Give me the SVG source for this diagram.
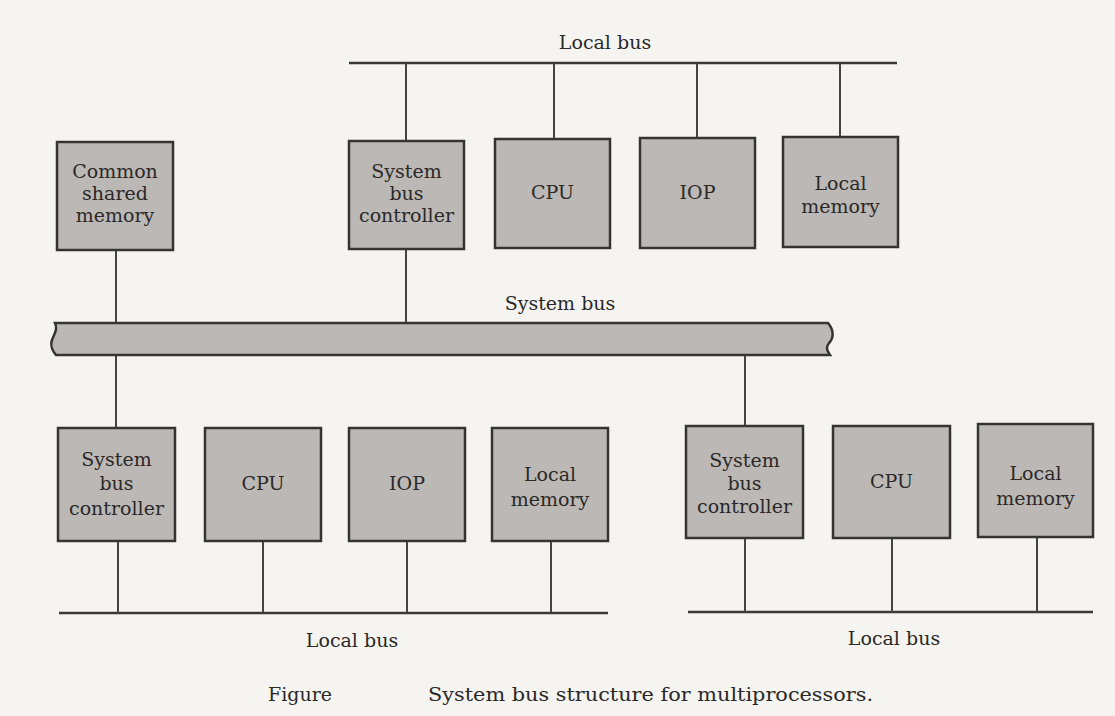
<svg xmlns="http://www.w3.org/2000/svg" width="1115" height="716" viewBox="0 0 1115 716">
<style>
.bg{fill:#f5f4f1}
.box{fill:#bcb8b5;stroke:#353433;stroke-width:2.5}
.ln{stroke:#454443;stroke-width:2;fill:none}
.bus{stroke:#3a3938;stroke-width:2.5;fill:none}
.t{font-family:"DejaVu Serif","Liberation Serif",serif;font-size:19px;fill:#2a2928;text-anchor:middle}
.lbl{font-family:"DejaVu Serif","Liberation Serif",serif;font-size:19px;fill:#2a2928;text-anchor:middle}
.cap{font-family:"DejaVu Serif","Liberation Serif",serif;font-size:19px;fill:#2a2928}
</style>
<rect class="bg" x="0" y="0" width="1115" height="716"/>
<g id="connectors">
  <line class="bus" x1="349" y1="63" x2="897" y2="63"/>
  <line class="ln" x1="406" y1="63" x2="406" y2="141"/>
  <line class="ln" x1="554" y1="63" x2="554" y2="139"/>
  <line class="ln" x1="697" y1="63" x2="697" y2="138"/>
  <line class="ln" x1="840" y1="63" x2="840" y2="137"/>
  <line class="ln" x1="116" y1="250" x2="116" y2="428"/>
  <line class="ln" x1="406" y1="249" x2="406" y2="324"/>
  <line class="ln" x1="745" y1="354" x2="745" y2="426"/>
  <line class="bus" x1="59" y1="613" x2="608" y2="613"/>
  <line class="ln" x1="118" y1="541" x2="118" y2="613"/>
  <line class="ln" x1="263" y1="541" x2="263" y2="613"/>
  <line class="ln" x1="407" y1="541" x2="407" y2="613"/>
  <line class="ln" x1="551" y1="541" x2="551" y2="613"/>
  <line class="bus" x1="688" y1="612" x2="1093" y2="612"/>
  <line class="ln" x1="745" y1="538" x2="745" y2="612"/>
  <line class="ln" x1="892" y1="538" x2="892" y2="612"/>
  <line class="ln" x1="1037" y1="537" x2="1037" y2="612"/>
</g>
<g id="system-bus">
  <path class="box" d="M55 323 L828 323 C834 330 834 338 829 343 C825 348 828 352 830 355 L56 355 C52 350 50 346 52 340 C54 334 58 330 55 323 Z"/>
  <text class="lbl" x="560" y="310">System bus</text>
</g>
<g id="local-bus-top"><text class="lbl" x="605" y="49">Local bus</text></g>
<g id="local-bus-left"><text class="lbl" x="352" y="647">Local bus</text></g>
<g id="local-bus-right"><text class="lbl" x="894" y="645">Local bus</text></g>
<g id="common-shared-memory">
  <rect class="box" x="57" y="142" width="116" height="108"/>
  <text class="t" x="115" y="178">Common</text>
  <text class="t" x="115" y="200">shared</text>
  <text class="t" x="115" y="222">memory</text>
</g>
<g id="top-sbc">
  <rect class="box" x="349" y="141" width="115" height="108"/>
  <text class="t" x="406.5" y="178">System</text>
  <text class="t" x="406.5" y="200">bus</text>
  <text class="t" x="406.5" y="222">controller</text>
</g>
<g id="top-cpu">
  <rect class="box" x="495" y="139" width="115" height="109"/>
  <text class="t" x="552.5" y="199">CPU</text>
</g>
<g id="top-iop">
  <rect class="box" x="640" y="138" width="115" height="110"/>
  <text class="t" x="697.5" y="199">IOP</text>
</g>
<g id="top-local-memory">
  <rect class="box" x="783" y="137" width="115" height="110"/>
  <text class="t" x="840.5" y="190">Local</text>
  <text class="t" x="840.5" y="213">memory</text>
</g>
<g id="left-sbc">
  <rect class="box" x="58" y="428" width="117" height="113"/>
  <text class="t" x="116.5" y="466">System</text>
  <text class="t" x="116.5" y="490">bus</text>
  <text class="t" x="116.5" y="515">controller</text>
</g>
<g id="left-cpu">
  <rect class="box" x="205" y="428" width="116" height="113"/>
  <text class="t" x="263" y="490">CPU</text>
</g>
<g id="left-iop">
  <rect class="box" x="349" y="428" width="116" height="113"/>
  <text class="t" x="407" y="490">IOP</text>
</g>
<g id="left-local-memory">
  <rect class="box" x="492" y="428" width="116" height="113"/>
  <text class="t" x="550" y="481">Local</text>
  <text class="t" x="550" y="506">memory</text>
</g>
<g id="right-sbc">
  <rect class="box" x="686" y="426" width="117" height="112"/>
  <text class="t" x="744.5" y="467">System</text>
  <text class="t" x="744.5" y="490">bus</text>
  <text class="t" x="744.5" y="513">controller</text>
</g>
<g id="right-cpu">
  <rect class="box" x="833" y="426" width="117" height="112"/>
  <text class="t" x="891.5" y="488">CPU</text>
</g>
<g id="right-local-memory">
  <rect class="box" x="978" y="424" width="115" height="113"/>
  <text class="t" x="1035.5" y="480">Local</text>
  <text class="t" x="1035.5" y="505">memory</text>
</g>
<g id="caption">
  <text class="cap" x="268" y="701">Figure</text>
  <text class="cap" x="428" y="701" textLength="445" lengthAdjust="spacingAndGlyphs">System bus structure for multiprocessors.</text>
</g>
</svg>
